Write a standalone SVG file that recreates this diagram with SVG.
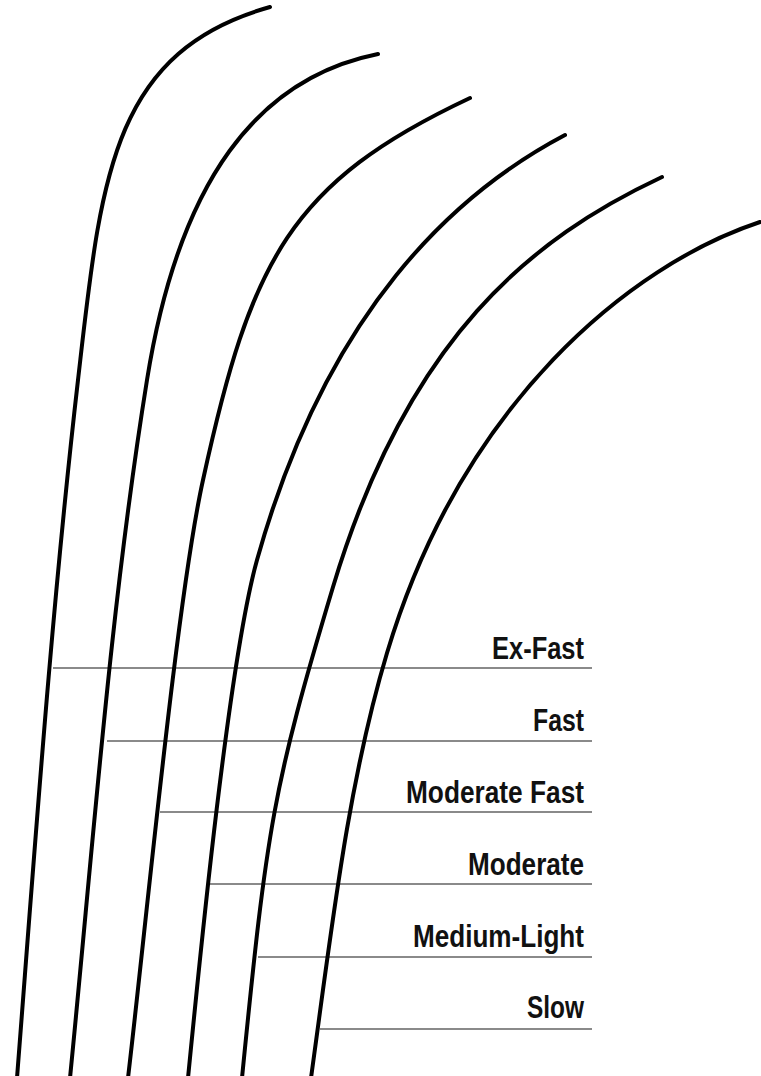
<svg xmlns="http://www.w3.org/2000/svg" width="761" height="1076" viewBox="0 0 761 1076">
<style>
.curve{fill:none;stroke:#000;stroke-width:4;stroke-linecap:round}
.tick{stroke:#8a8a8a;stroke-width:2.2;fill:none}
.lbl{font-family:"Liberation Sans Narrow","Liberation Sans",Arial,sans-serif;font-weight:bold;font-size:31px;fill:#111;text-anchor:end}
</style>
<rect width="761" height="1076" fill="#fff"/>
<g id="connectors">
<line class="tick" x1="53" y1="668" x2="592" y2="668"/>
<line class="tick" x1="107" y1="741" x2="592" y2="741"/>
<line class="tick" x1="160" y1="812" x2="592" y2="812"/>
<line class="tick" x1="210" y1="884" x2="592" y2="884"/>
<line class="tick" x1="258" y1="957" x2="592" y2="957"/>
<line class="tick" x1="320" y1="1029" x2="592" y2="1029"/>
</g>
<g id="curve-exfast"><path class="curve" d="M17,1078 C35,846 51.5,610 78,380 C101,180 110,52 270,7"/></g>
<g id="curve-fast"><path class="curve" d="M70,1078 C93,846 110,610 147,380 C179,180 258,78 378,54"/></g>
<g id="curve-moderate-fast"><path class="curve" d="M128,1078 C146,926 176.6,600 203,480 C251,260 290,182.6 470,98"/></g>
<g id="curve-moderate"><path class="curve" d="M188,1078 C200,956 229,660 257,560 C327,310 455,193 565,135"/></g>
<g id="curve-medium-light"><path class="curve" d="M242,1078 C267,826 273,787 333,587 C408,337 532,238 662,177"/></g>
<g id="curve-slow"><path class="curve" d="M311,1078 C332,926 348,783 387,653 C462,403 630,265 760,222"/></g>
<g id="label-exfast"><text class="lbl" x="584" y="659" textLength="92" lengthAdjust="spacingAndGlyphs">Ex-Fast</text></g>
<g id="label-fast"><text class="lbl" x="584" y="731" textLength="51" lengthAdjust="spacingAndGlyphs">Fast</text></g>
<g id="label-moderate-fast"><text class="lbl" x="584" y="803" textLength="178" lengthAdjust="spacingAndGlyphs">Moderate Fast</text></g>
<g id="label-moderate"><text class="lbl" x="584" y="875" textLength="116" lengthAdjust="spacingAndGlyphs">Moderate</text></g>
<g id="label-medium-light"><text class="lbl" x="584" y="947" textLength="171" lengthAdjust="spacingAndGlyphs">Medium-Light</text></g>
<g id="label-slow"><text class="lbl" x="584" y="1018" textLength="57" lengthAdjust="spacingAndGlyphs">Slow</text></g>
</svg>
